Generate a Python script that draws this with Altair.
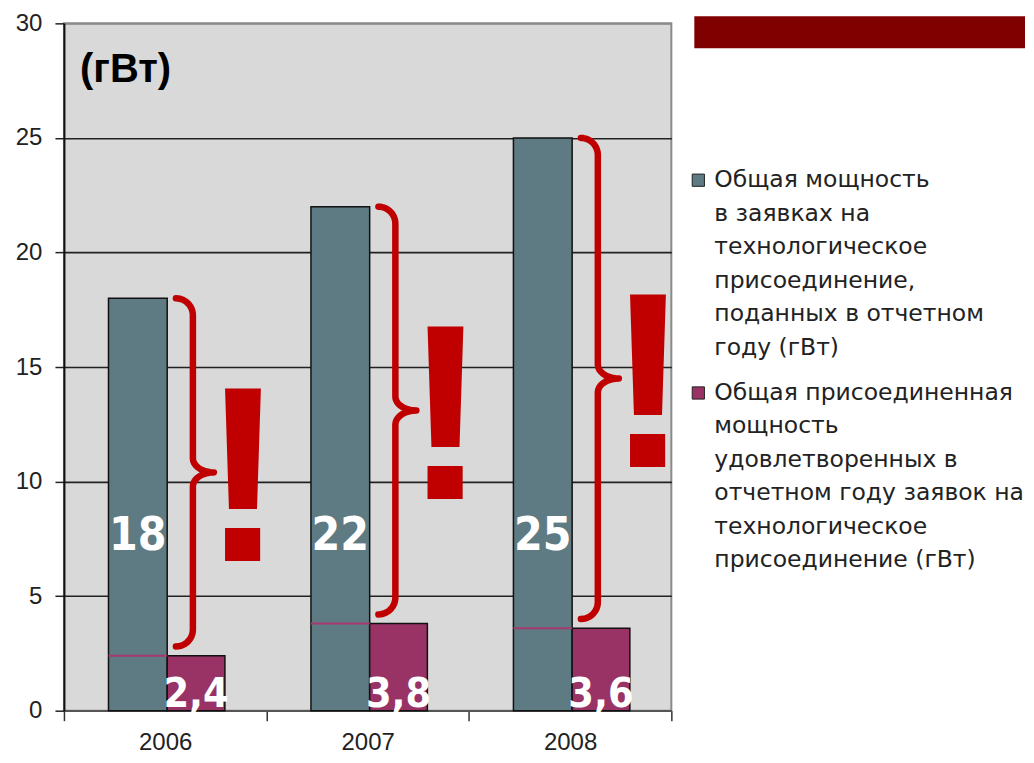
import json
import numpy as np
import pandas as pd
import altair as alt

# ---------------- data ----------------
years = ["2006", "2007", "2008"]
total = [18, 22, 25]
connected = [2.4, 3.8, 3.6]
total_labels = ["18", "22", "25"]
connected_labels = ["2,4", "3,8", "3,6"]
unit_label = "(гВт)"
series_names = [
    "Общая  мощность\nв заявках на\nтехнологическое\nприсоединение,\nподанных в отчетном\nгоду (гВт)",
    "Общая присоединенная\nмощность\nудовлетворенных в\nотчетном году заявок на\nтехнологическое\nприсоединение (гВт)",
]
y_ticks = [0, 5, 10, 15, 20, 25, 30]

# ---------------- style ----------------
GRAY = "#5e7a82"
MAG = "#993366"
RED = "#c00000"
BG = "#d9d9d9"
W, H = 608, 688
PX = 3 / W          # x data units per pixel
PY = 30 / H         # y data units per pixel

df = pd.DataFrame({
    "i": list(range(len(years))),
    "year": years,
    "total": total,
    "connected": connected,
    "tl": total_labels,
    "cl": connected_labels,
})

x_scale = alt.Scale(domain=[0, len(years)], nice=False, zero=False)
y_scale = alt.Scale(domain=[0, 30], nice=False, zero=True)

half_vals = [k * 0.5 for k in range(2 * len(years) + 1)]
x_axis = alt.Axis(
    values=half_vals,
    title=None,
    grid=False,
    labelExpr=f"(datum.value % 1) == 0.5 ? {json.dumps(years)}[floor(datum.value)] : ''",
    labelOverlap=False,
    labelFont="Liberation Sans",
    labelFontSize=24,
    labelColor="#222",
    labelPadding=10,
    tickSize=10,
    tickColor="#333",
    tickWidth=1.5,
    tickOpacity={"condition": {"test": "(datum.value % 1) == 0.5", "value": 0}, "value": 1},
    domainColor="#555",
    domainWidth=1.5,
)
y_axis = alt.Axis(
    values=y_ticks,
    title=None,
    grid=True,
    gridColor={"condition": {"test": "datum.value == 30", "value": "#8a8a8a"}, "value": "#222"},
    gridWidth=1.6,
    labelFont="Liberation Sans",
    labelFontSize=24,
    labelColor="#222",
    labelPadding=13,
    tickSize=9,
    tickColor="#222",
    tickWidth=1.5,
    domainColor="#111",
    domainWidth=2,
)

X = lambda f: alt.X(f, type="quantitative", scale=x_scale, axis=x_axis)
Y = lambda f: alt.Y(f, type="quantitative", scale=y_scale, axis=y_axis)

base = alt.Chart(df).transform_calculate(
    gx0="datum.i + 0.22", gx1="datum.i + 0.51", mx1="datum.i + 0.795",
    zero="0",
)

gray_bars = base.mark_rect(fill=GRAY, stroke="#111", strokeWidth=1.5).encode(
    x=X("gx0"), x2="gx1:Q", y=Y("total"), y2="zero:Q"
)
mag_bars = base.mark_rect(fill=MAG, stroke="#111", strokeWidth=1.5).encode(
    x=X("gx1"), x2="mx1:Q", y=Y("connected"), y2="zero:Q"
)
inner_rule = base.mark_rule(color="#a63a6e", strokeWidth=2).encode(
    x=X("gx0"), x2="gx1:Q", y=Y("connected")
)

label_font = "Liberation Sans Narrow, DejaVu Sans Condensed, Liberation Sans"
total_text = base.transform_calculate(tx="datum.i + 0.365", ty="7.0").mark_text(
    font=label_font, fontWeight="bold", fontSize=46, color="white",
    align="center", baseline="alphabetic",
).encode(x=X("tx"), y=Y("ty"), text="tl:N")
conn_text = base.transform_calculate(tx="datum.i + 0.6525", ty="0.15").mark_text(
    font=label_font, fontWeight="bold", fontSize=41, color="white",
    align="center", baseline="alphabetic",
).encode(x=X("tx"), y=Y("ty"), text="cl:N")

excl = base.transform_calculate(
    ex="datum.i + 0.885",
    ey="(datum.total + datum.connected + 0.4) / 2 - 3.85",
).mark_text(
    text="!", font="Liberation Sans", fontWeight="bold", fontSize=250, color=RED,
    align="center", baseline="alphabetic",
).encode(x=X("ex"), y=Y("ey"))

# ----- curly braces built from each group's values -----
rows = []
for i, (t, c) in enumerate(zip(total, connected)):
    top, bot = t, c + 0.4
    mid = (top + bot) / 2
    x0 = i + 0.553
    rx, ry = 17 * PX, 17 * PY
    r2x, r2y = 21 * PX, 14 * PY
    pts = []
    for a in np.linspace(90, 0, 12):
        r = np.radians(a)
        pts.append((x0 + rx * np.cos(r), top - ry + ry * np.sin(r)))
    cx, cy = x0 + rx + r2x, mid + r2y
    for a in np.linspace(180, 270, 10):
        r = np.radians(a)
        pts.append((cx + r2x * np.cos(r), cy + r2y * np.sin(r)))
    cy = mid - r2y
    for a in np.linspace(90, 180, 10):
        r = np.radians(a)
        pts.append((cx + r2x * np.cos(r), cy + r2y * np.sin(r)))
    for a in np.linspace(0, -90, 12):
        r = np.radians(a)
        pts.append((x0 + rx * np.cos(r), bot + ry + ry * np.sin(r)))
    for k, (bx, by) in enumerate(pts):
        rows.append({"g": i, "o": k, "bx": bx, "by": by})
brace_df = pd.DataFrame(rows)
braces = alt.Chart(brace_df).mark_line(
    color=RED, strokeWidth=6.5, strokeCap="round", strokeJoin="round"
).encode(x=X("bx"), y=Y("by"), detail="g:N", order="o:Q")

one = pd.DataFrame({"a": [0]})
unit = alt.Chart(one).transform_calculate(ux="0.079", uy="27.45").mark_text(
    text=unit_label, font="Liberation Sans", fontWeight="bold", fontSize=40,
    color="black", align="left", baseline="alphabetic",
).encode(x=X("ux"), y=Y("uy"))

# ----- legend (drawn on the right of the plot) -----
legend_layers = []
leg_colors = [GRAY, MAG]
leg_y = [164, 377]
for name, col, ly in zip(series_names, leg_colors, leg_y):
    legend_layers.append(
        alt.Chart(one).mark_point(shape="square", filled=True, size=150, fill=col,
                                  stroke="#222", strokeWidth=1, opacity=1)
        .encode(x=alt.value(635), y=alt.value(ly - 7))
    )
    legend_layers.append(
        alt.Chart(one).mark_text(
            text=name.split("\n"), font="DejaVu Sans", fontSize=23.5, color="#222",
            align="left", baseline="alphabetic", lineHeight=33.5,
        ).encode(x=alt.value(651), y=alt.value(ly))
    )

banner = alt.Chart(one).mark_rect(color="#800000").encode(
    x=alt.value(631), x2=alt.value(962), y=alt.value(-7), y2=alt.value(25)
)

chart = alt.layer(
    gray_bars, mag_bars, inner_rule, braces, excl, total_text, conn_text, unit,
    banner, *legend_layers,
).properties(
    width=W, height=H,
    padding={"left": 56, "top": 15, "right": 355, "bottom": 44},
    autosize=alt.AutoSizeParams(type="none"),
    background="white",
).configure_view(
    fill=BG, stroke="#8a8a8a", strokeWidth=2,
)

chart.save("out.html", embed_options={"renderer": "svg", "actions": False})
